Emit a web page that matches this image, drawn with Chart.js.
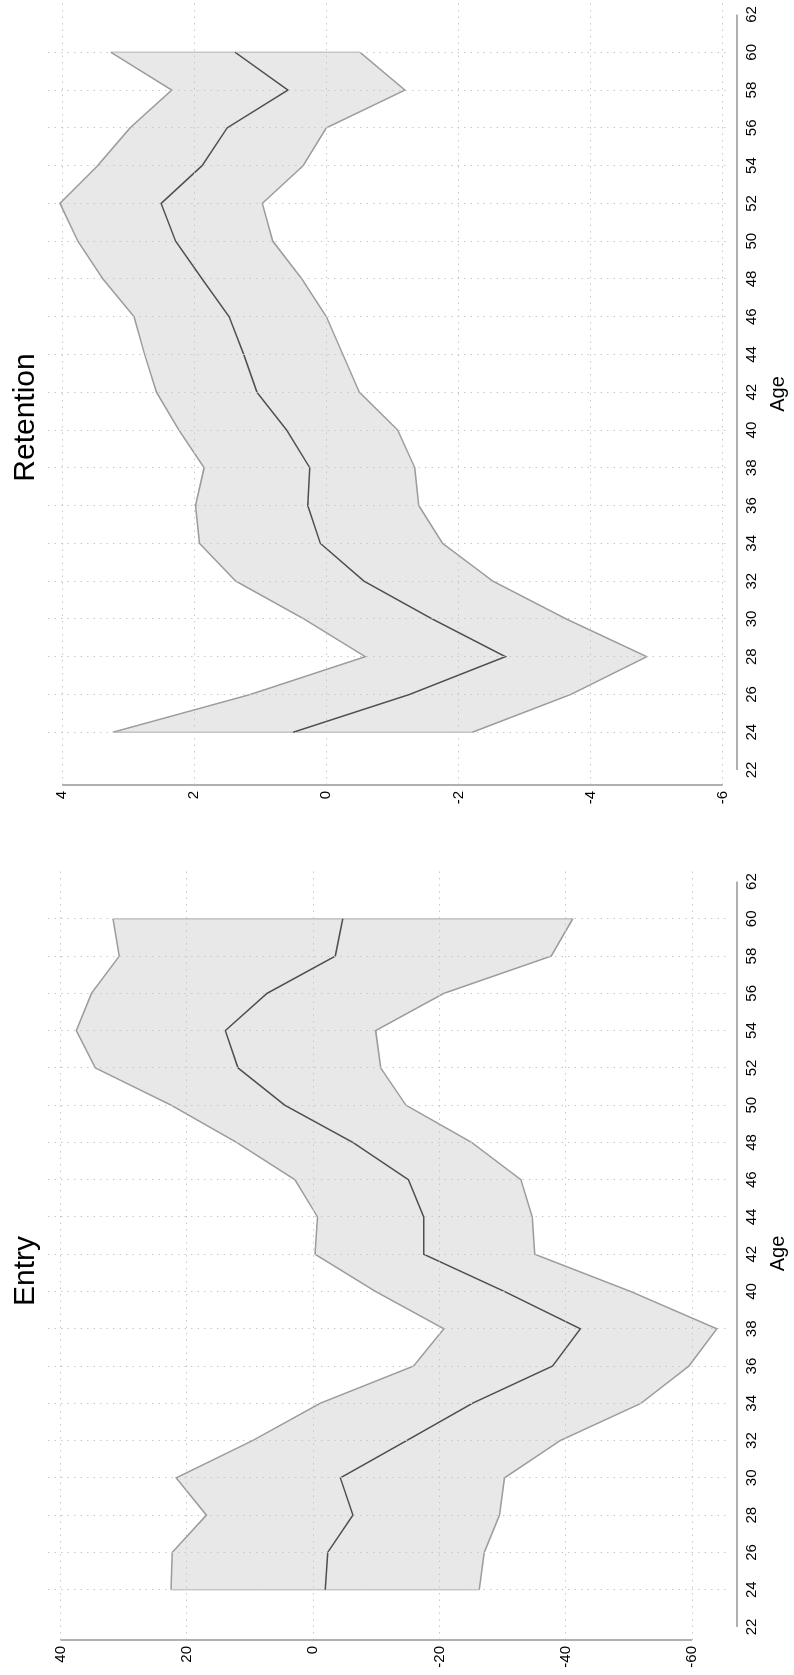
<!DOCTYPE html>
<html>
<head>
<meta charset="utf-8">
<title>Entry and Retention by Age</title>
<script src="https://cdn.jsdelivr.net/npm/chart.js@4.4.1/dist/chart.umd.min.js"></script>
<style>
  html, body { margin: 0; padding: 0; background: #fff; overflow: hidden; }
  /* the figure is drawn landscape and turned a quarter turn */
  #page { position: absolute; left: 0; top: 0; width: 1675px; height: 794px;
          transform-origin: 0 0; transform: translate(0, 1675px) rotate(-90deg); }
  canvas { position: absolute; top: 0; }
  #entryChart { left: 0; }
  #retentionChart { left: 843px; }
</style>
</head>
<body>
<div id="page">
  <canvas id="entryChart" width="843" height="794"></canvas>
  <canvas id="retentionChart" width="876" height="794"></canvas>
</div>
<script>
const ages = [24, 26, 28, 30, 32, 34, 36, 38, 40, 42, 44, 46, 48, 50, 52, 54, 56, 58, 60];
const ageTicks = [22, 24, 26, 28, 30, 32, 34, 36, 38, 40, 42, 44, 46, 48, 50, 52, 54, 56, 58, 60, 62];

// Entry
const entryUpper = [22.5, 22.3, 16.9, 21.7, 9.6, -1.1, -15.9, -20.7, -9.9, -0.3, -0.7, 2.9, 12.1, 22.5, 34.5, 37.5, 35.1, 30.7, 31.7];
const entryMid   = [-1.9, -2.3, -6.3, -4.3, -14.8, -25.2, -37.9, -42.3, -30.3, -17.5, -17.5, -15.1, -6.3, 4.5, 11.9, 13.9, 7.3, -3.5, -4.7];
const entryLower = [-26.3, -27.1, -29.5, -30.3, -39.1, -51.9, -59.5, -63.9, -50.3, -35.1, -34.7, -32.9, -25.1, -14.7, -10.7, -9.9, -20.7, -37.7, -41.1];
const entryTicks = [40, 20, 0, -20, -40, -60];

// Retention
const retUpper = [3.23, 1.15, -0.59, 0.34, 1.37, 1.92, 1.98, 1.85, 2.23, 2.57, 2.75, 2.91, 3.38, 3.76, 4.03, 3.46, 2.97, 2.34, 3.26];
const retMid   = [0.50, -1.26, -2.71, -1.60, -0.57, 0.09, 0.28, 0.25, 0.60, 1.05, 1.25, 1.47, 1.88, 2.28, 2.50, 1.88, 1.50, 0.58, 1.38];
const retLower = [-2.21, -3.70, -4.85, -3.63, -2.52, -1.76, -1.40, -1.34, -1.08, -0.50, -0.25, 0.00, 0.37, 0.81, 0.97, 0.35, 0.00, -1.19, -0.51];
const retTicks = [4, 2, 0, -2, -4, -6];

const FONT = "'Liberation Sans', Arial, sans-serif";
const gridColor = '#c8c8c8';
const edgeColor = '#9c9c9c';
const endColor = '#c6c6c6';
const midColor = '#4f4f4f';
const bandFill = '#e8e8e8';
const axisColor = '#b0b0b0';

function pts(values) {
  return ages.map((a, i) => ({ x: a, y: values[i] }));
}

// Stata style axis lines: only as long as the labelled range, x axis set a bit below the plot
function axisLinesPlugin(yTicks) {
  return {
    id: 'axisLines',
    afterDraw(chart) {
      const { ctx, chartArea, scales: { x, y } } = chart;
      ctx.save();
      ctx.strokeStyle = axisColor;
      ctx.lineWidth = 2;
      ctx.beginPath();
      ctx.moveTo(chartArea.left, y.getPixelForValue(Math.max(...yTicks)));
      ctx.lineTo(chartArea.left, y.getPixelForValue(Math.min(...yTicks)));
      const yb = chartArea.bottom + 7;
      ctx.moveTo(x.getPixelForValue(ageTicks[0]), yb);
      ctx.lineTo(x.getPixelForValue(ageTicks[ageTicks.length - 1]), yb);
      ctx.stroke();
      ctx.restore();
    }
  };
}

function drawPanel(id, title, upper, mid, lower, yTicks, yRange, xRange, yAxisWidth, rightPad) {
  const n = ages.length - 1;
  return new Chart(document.getElementById(id), {
    type: 'line',
    data: {
      datasets: [
        { data: pts(upper), borderColor: edgeColor, borderWidth: 1.5, backgroundColor: bandFill, fill: 1, pointRadius: 0 },
        { data: pts(lower), borderColor: edgeColor, borderWidth: 1.5, fill: false, pointRadius: 0 },
        { data: pts(mid), borderColor: midColor, borderWidth: 1.5, fill: false, pointRadius: 0 },
        // closing edges of the band
        { data: [{ x: ages[0], y: upper[0] }, { x: ages[0], y: lower[0] }], borderColor: endColor, borderWidth: 1, fill: false, pointRadius: 0 },
        { data: [{ x: ages[n], y: upper[n] }, { x: ages[n], y: lower[n] }], borderColor: endColor, borderWidth: 1, fill: false, pointRadius: 0 }
      ]
    },
    options: {
      responsive: false,
      devicePixelRatio: 1,
      animation: false,
      events: [],
      layout: { padding: { left: 0, right: rightPad, top: 0, bottom: 0 } },
      plugins: {
        legend: { display: false },
        tooltip: { enabled: false },
        filler: { drawTime: 'beforeDatasetsDraw' },
        title: {
          display: true,
          text: title,
          color: '#000',
          font: { family: FONT, size: 30, weight: 'normal' },
          padding: { top: 8, bottom: 4 }
        }
      },
      scales: {
        x: {
          type: 'linear',
          min: xRange[0],
          max: xRange[1],
          afterBuildTicks: s => { s.ticks = ageTicks.map(v => ({ value: v })); },
          afterFit: s => { s.height = 64; },
          grid: {
            z: 1,
            drawTicks: false,
            lineWidth: 1,
            color: c => (c.tick && (c.tick.value === 22 || c.tick.value === 62)) ? 'rgba(0,0,0,0)' : gridColor
          },
          border: { display: false, dash: [1.5, 5] },
          ticks: {
            autoSkip: false,
            maxRotation: 0,
            padding: 12.5,
            color: '#000',
            font: { family: FONT, size: 15 }
          },
          title: {
            display: true,
            text: 'Age',
            color: '#000',
            font: { family: FONT, size: 20 },
            padding: { top: 0, bottom: 4 }
          }
        },
        y: {
          min: yRange[0],
          max: yRange[1],
          afterBuildTicks: s => { s.ticks = yTicks.map(v => ({ value: v })); },
          afterFit: s => { s.width = yAxisWidth; },
          grid: { z: 1, drawTicks: false, lineWidth: 1, color: gridColor },
          border: { display: false, dash: [1.5, 5] },
          ticks: {
            padding: 6,
            color: '#000',
            font: { family: FONT, size: 15 }
          }
        }
      }
    },
    plugins: [axisLinesPlugin(yTicks)]
  });
}

drawPanel('entryChart', 'Entry', entryUpper, entryMid, entryLower, entryTicks,
  [-66.0, 41.98], [21.30, 62.78], 35, 35);
drawPanel('retentionChart', 'Retention', retUpper, retMid, retLower, retTicks,
  [-6.109, 4.212], [21.206, 62.61], 47, 47);
</script>
</body>
</html>
